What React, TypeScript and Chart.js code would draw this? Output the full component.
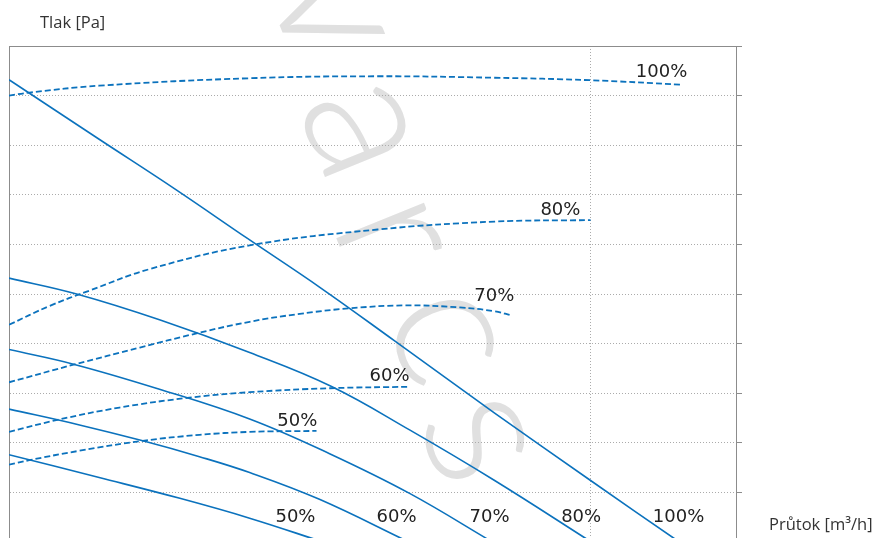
import React, { useEffect, useRef } from "react";
import { Chart, registerables } from "chart.js";

Chart.register(...registerables);

// ---- data (x: průtok m³/h, y: tlak Pa) ----
const solid100X = [0, 124, 228, 328, 429, 530, 668, 800, 922];
const solid100Y = [466, 406, 356, 306, 256, 203, 130, 62, 0];
const solid80X = [0, 93, 207, 331, 443, 551, 668, 801];
const solid80Y = [266, 250, 224, 191, 157, 113, 62, 0];
const solid70X = [0, 90, 207, 331, 441, 551, 665];
const solid70Y = [194, 179, 154, 124, 89, 49, 0];
const solid60X = [0, 97, 184, 262, 331, 427, 550];
const solid60Y = [134, 118, 102, 86, 70, 43, 0];
const solid50X = [0, 124, 235, 331, 432];
const solid50Y = [88, 65, 44, 24, 0];

const dash100X = [0, 28, 124, 331, 507, 668, 800, 926];
const dash100Y = [450, 453, 460, 467.5, 469.5, 468, 465.5, 461];
const dash80X = [0, 56, 111, 193, 331, 507, 668, 800];
const dash80Y = [219, 238, 253.5, 275, 299, 315, 323, 324.5];
const dash70X = [0, 90, 180, 262, 331, 400, 468, 544, 620, 668, 691];
const dash70Y = [161, 179, 196, 211, 222, 230, 235.5, 238.5, 236.5, 232.5, 228.5];
const dash60X = [0, 69, 152, 248, 331, 441, 551];
const dash60Y = [111, 123.5, 135.5, 145.5, 151, 155, 156.5];
const dash50X = [0, 28, 97, 184, 262, 331, 423];
const dash50Y = [78, 82.5, 92, 102, 108, 111, 112];

const curveLabels = ["100%", "80%", "70%", "60%", "50%"];
const curveLabelX = [933, 786, 695, 551, 424];
const curveLabelY = [469, 330, 243, 162, 117];
const bottomLabels = ["50%", "60%", "70%", "80%", "100%"];
const bottomLabelX = [394, 533, 661, 787, 921];
const bottomLabelY = 20;

const xGridTicks = [800];
const X_MAX = 1000;
const Y_MAX = 500;
const Y_STEP = 50;

const yTitle = "Tlak [Pa]";
const xTitle = "Průtok [m³/h]";

// watermark letters (page pixel centres)
const watermarkLetters = ["v", "a", "r", "c", "s"];
const watermarkCX = [338, 370, 400, 455, 488];
const watermarkCY = [6, 125, 232, 332, 435];

const BLUE = "#0b72bd";
const GRID = "#ababab";
const AXIS = "#8c8c8c";

const pts = (xs: number[], ys: number[]) => xs.map((x, i) => ({ x, y: ys[i] }));

export default function App() {
  const ref = useRef<HTMLCanvasElement>(null);

  useEffect(() => {
    const canvas = ref.current;
    if (!canvas) return;

    const solid = [
      [solid100X, solid100Y],
      [solid80X, solid80Y],
      [solid70X, solid70Y],
      [solid60X, solid60Y],
      [solid50X, solid50Y],
    ].map(([xs, ys]) => ({
      data: pts(xs as number[], ys as number[]),
      borderColor: BLUE,
      borderWidth: 1.6,
      pointRadius: 0,
      fill: false,
      tension: 0.4,
    }));
    const dashed = [
      [dash100X, dash100Y],
      [dash80X, dash80Y],
      [dash70X, dash70Y],
      [dash60X, dash60Y],
      [dash50X, dash50Y],
    ].map(([xs, ys]) => ({
      data: pts(xs as number[], ys as number[]),
      borderColor: BLUE,
      borderWidth: 1.8,
      borderDash: [6, 3],
      pointRadius: 0,
      fill: false,
      tension: 0.4,
    }));

    const watermarkPlugin = {
      id: "watermark",
      beforeDraw(chart: any) {
        const { ctx } = chart;
        ctx.save();
        ctx.fillStyle = "#e0e0e0";
        ctx.font = '300 190px Lato';
        ctx.textAlign = "center";
        ctx.textBaseline = "middle";
        watermarkLetters.forEach((ch, i) => {
          ctx.save();
          ctx.translate(watermarkCX[i], watermarkCY[i]);
          ctx.rotate((68 * Math.PI) / 180);
          ctx.fillText(ch, 0, 0);
          ctx.restore();
        });
        ctx.restore();
      },
    };

    const textPlugin = {
      id: "texts",
      afterDatasetsDraw(chart: any) {
        const { ctx, chartArea } = chart;
        const xs = chart.scales.x;
        const ys = chart.scales.y;
        ctx.save();
        ctx.fillStyle = "#222";
        ctx.font = '18px "DejaVu Sans"';
        ctx.textBaseline = "alphabetic";
        ctx.textAlign = "right";
        curveLabels.forEach((t, i) => {
          ctx.fillText(t, xs.getPixelForValue(curveLabelX[i]), ys.getPixelForValue(curveLabelY[i]));
        });
        ctx.textAlign = "center";
        bottomLabels.forEach((t, i) => {
          ctx.fillText(t, xs.getPixelForValue(bottomLabelX[i]), ys.getPixelForValue(bottomLabelY));
        });
        ctx.fillStyle = "#333";
        ctx.font = '16.5px "Open Sans"';
        ctx.textAlign = "left";
        ctx.fillText(yTitle, chartArea.left + 31, chartArea.top - 18);
        ctx.fillText(xTitle, chartArea.right + 33, 530);
        ctx.restore();
      },
    };

    const chart = new Chart(canvas, {
      type: "line",
      data: { datasets: [...solid, ...dashed] as any },
      options: {
        responsive: false,
        animation: false,
        events: [],
        layout: { padding: { left: 9, right: 133, top: 46, bottom: 18 } },
        plugins: { legend: { display: false }, tooltip: { enabled: false } },
        scales: {
          x: {
            type: "linear",
            position: "bottom",
            min: 0,
            max: X_MAX,
            afterBuildTicks: (axis: any) => {
              axis.ticks = xGridTicks.map((v) => ({ value: v }));
            },
            ticks: { display: false },
            grid: { color: GRID, drawTicks: false },
            border: { display: false, dash: [1, 2] },
          },
          x2: {
            type: "linear",
            position: "top",
            min: 0,
            max: X_MAX,
            display: true,
            ticks: { display: false },
            grid: { display: false, drawTicks: false },
            border: { display: true, color: AXIS },
          },
          y: {
            type: "linear",
            position: "left",
            min: 0,
            max: Y_MAX,
            ticks: { display: false, stepSize: Y_STEP },
            grid: { color: GRID, drawTicks: false },
            border: { display: true, color: AXIS, dash: [1, 2] },
          },
          y2: {
            type: "linear",
            position: "right",
            min: 0,
            max: Y_MAX,
            display: true,
            ticks: { display: false, stepSize: Y_STEP },
            grid: { drawOnChartArea: false, drawTicks: true, tickLength: 6, tickColor: AXIS, color: AXIS },
            border: { display: true, color: AXIS },
          },
        },
      },
      plugins: [watermarkPlugin, textPlugin],
    });

    return () => chart.destroy();
  }, []);

  return (
    <div style={{ position: "fixed", left: 0, top: 0, width: 875, height: 538, overflow: "hidden", background: "#fff" }}>
      <canvas ref={ref} width={875} height={560} style={{ display: "block" }} />
    </div>
  );
}
